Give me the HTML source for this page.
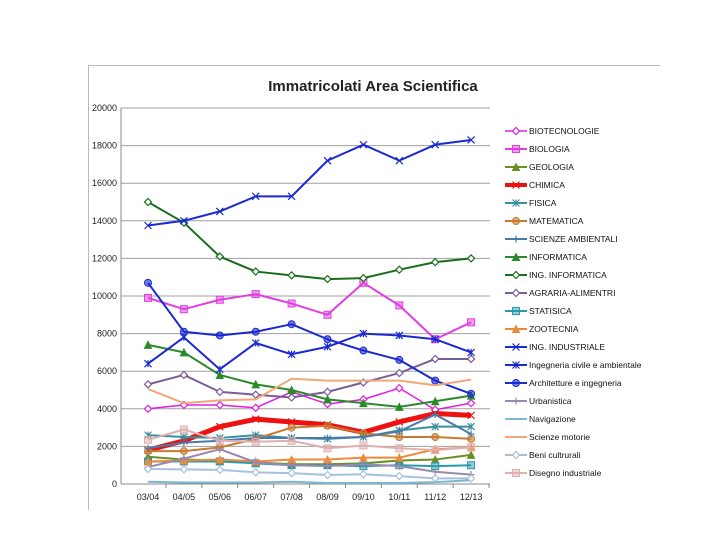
<!DOCTYPE html>
<html><head><meta charset="utf-8"><style>
body{margin:0;background:#fff;font-family:"Liberation Sans",sans-serif}
svg{display:block}
</style></head><body>
<svg id="c" width="720" height="540">
<path d="M88.5,510 L88.5,65.5 L660,65.5" fill="none" stroke="#bbb"/>
<text x="373" y="91" text-anchor="middle" font-size="15" font-weight="bold" fill="#222">Immatricolati Area Scientifica</text>
<g id="grid"></g><g id="series"></g><g id="legend"></g>
</svg>
<script>
const categories=["03/04","04/05","05/06","06/07","07/08","08/09","09/10","10/11","11/12","12/13"];
const yTicks=[0,2000,4000,6000,8000,10000,12000,14000,16000,18000,20000];
const names=["BIOTECNOLOGIE","BIOLOGIA","GEOLOGIA","CHIMICA","FISICA","MATEMATICA","SCIENZE AMBIENTALI","INFORMATICA","ING. INFORMATICA","AGRARIA-ALIMENTRI","STATISICA","ZOOTECNIA","ING. INDUSTRIALE","Ingegneria civile e ambientale","Architetture e ingegneria","Urbanistica","Navigazione","Scienze motorie","Beni cultrurali","Disegno industriale"];
const sBiotec=[4000,4200,4200,4050,4900,4250,4500,5100,3950,4300];
const sBiologia=[9900,9300,9800,10100,9600,9000,10700,9500,7700,8600];
const sGeologia=[1450,1300,1250,1150,1050,1050,1100,1250,1300,1550];
const sChimica=[1800,2300,3050,3450,3300,3150,2750,3300,3750,3650];
const sFisica=[2600,2500,2450,2600,2450,2400,2500,2850,3050,3050];
const sMatematica=[1750,1750,1950,2400,3000,3100,2700,2500,2500,2400];
const sAmbientali=[1900,2200,2300,2450,2450,2450,2500,2800,3700,2650];
const sInformatica=[7400,7000,5800,5300,5000,4500,4300,4100,4400,4700];
const sIngInf=[15000,13900,12100,11300,11100,10900,10950,11400,11800,12000];
const sAgraria=[5300,5800,4900,4750,4600,4900,5400,5900,6650,6650];
const sStatisica=[1200,1200,1200,1100,1000,1000,950,1000,950,1000];
const sZootecnia=[1200,1250,1300,1200,1300,1300,1400,1400,1850,1950];
const sIngInd=[13750,14000,14500,15300,15300,17200,18050,17200,18050,18300];
const sCivile=[6400,7800,6100,7500,6900,7300,8000,7900,7700,7000];
const sArch=[10700,8100,7900,8100,8500,7700,7100,6600,5500,4800];
const sUrban=[900,1350,1850,1150,1000,950,1050,950,650,500];
const sNavig=[120,80,80,80,120,50,50,50,100,200];
const sMotorie=[5050,4300,4450,4500,5600,5500,5500,5500,5250,5550];
const sBeni=[800,780,750,620,580,480,520,420,300,300];
const sDisegno=[2350,2900,2300,2250,2300,1900,2050,1900,1800,1950];
const seriesData=[sBiotec,sBiologia,sGeologia,sChimica,sFisica,sMatematica,sAmbientali,sInformatica,sIngInf,sAgraria,sStatisica,sZootecnia,sIngInd,sCivile,sArch,sUrban,sNavig,sMotorie,sBeni,sDisegno];
const styles=[["#e020e0",1.5,"diamond"],["#e040e0",2,"square"],["#6b8e23",2,"triangle"],["#ee1111",5,"x"],["#3b8fa0",2,"star"],["#c77a30",2,"circle"],["#4a7aa8",2,"plus"],["#2a8a2a",2,"triangle"],["#1a6e1a",2,"diamond"],["#7a5e9a",2,"diamond"],["#2a9ab0",2,"square"],["#ee8a3a",2,"triangle"],["#1a2ad0",2,"x"],["#1a2ad0",2,"star"],["#1a2ad0",2,"circle"],["#9a88b0",2,"plus"],["#7ab8d0",2,"none"],["#f0a878",2,"none"],["#a8c0e0",2,"diamond"],["#e0b0b0",2,"square"]];
const NS="http://www.w3.org/2000/svg";
const X0=148,DX=35.9,Y0=484,YH=376,YMAX=20000,XL=121,XR=490;
const xs=i=>X0+i*DX, ys=v=>Y0-v/YMAX*YH;
function mk(t,a,p){const e=document.createElementNS(NS,t);for(const k in a)e.setAttribute(k,a[k]);p.appendChild(e);return e;}
const grid=document.getElementById('grid');
yTicks.forEach(v=>{
 const l=mk('line',{x1:XL,x2:XR,y1:ys(v),y2:ys(v),stroke:v===0?'#888':'#a0a0a0','stroke-width':1},grid);
 
 
 const t=mk('text',{x:117,y:ys(v)+3,'text-anchor':'end','font-size':9,fill:'#222'},grid);t.textContent=v;
 
 
});
mk('line',{x1:XL,x2:XL,y1:ys(0),y2:ys(YMAX),stroke:'#888'},grid);
categories.forEach((c,i)=>{
 mk('line',{x1:xs(i)+DX/2,x2:xs(i)+DX/2,y1:Y0,y2:Y0+4,stroke:'#888'},grid);
 const t=mk('text',{x:xs(i),y:500,'text-anchor':'middle','font-size':9,fill:'#222'},grid);t.textContent=c;
 
 
});
function marker(g,type,x,y,col){
 const s=3.5;
 if(type==='diamond')mk('polygon',{points:`${x},${y-s} ${x+s},${y} ${x},${y+s} ${x-s},${y}`,fill:'#fff',stroke:col,'stroke-width':1.2},g);
 else if(type==='square')mk('rect',{x:x-s,y:y-s,width:2*s,height:2*s,fill:col,'fill-opacity':0.5,stroke:col},g);
 else if(type==='triangle')mk('polygon',{points:`${x},${y-s} ${x+s},${y+s} ${x-s},${y+s}`,fill:col,stroke:col},g);
 else if(type==='circle')mk('circle',{cx:x,cy:y,r:s,fill:col,'fill-opacity':0.6,stroke:col},g);
 else if(type==='x'||type==='star'){mk('path',{d:`M${x-s},${y-s}L${x+s},${y+s}M${x-s},${y+s}L${x+s},${y-s}`+(type==='star'?`M${x},${y-s}L${x},${y+s}`:''),stroke:col,'stroke-width':1.2},g);}
 else if(type==='plus')mk('path',{d:`M${x-s},${y}L${x+s},${y}M${x},${y-s}L${x},${y+s}`,stroke:col,'stroke-width':1.2},g);
}
const sg=document.getElementById('series'),lg=document.getElementById('legend');
seriesData.forEach((d,k)=>{
 const [col,w,m]=styles[k];
 const g=mk('g',{},sg);
 
 
 mk('polyline',{points:d.map((v,i)=>xs(i)+','+ys(v)).join(' '),fill:'none',stroke:col,'stroke-width':w,'stroke-linejoin':'round'},g);
 d.forEach((v,i)=>marker(g,m,xs(i),ys(v),col));
 const ly=131+k*18;
 const e=mk('g',{},lg);
 
 
 mk('line',{x1:505,x2:527,y1:ly,y2:ly,stroke:col,'stroke-width':Math.min(w,4)},e);
 marker(e,m,516,ly,col);
 const t=mk('text',{x:529,y:ly+3,'font-size':8.5,fill:'#111'},e);t.textContent=names[k];
});
</script>
</body></html>
